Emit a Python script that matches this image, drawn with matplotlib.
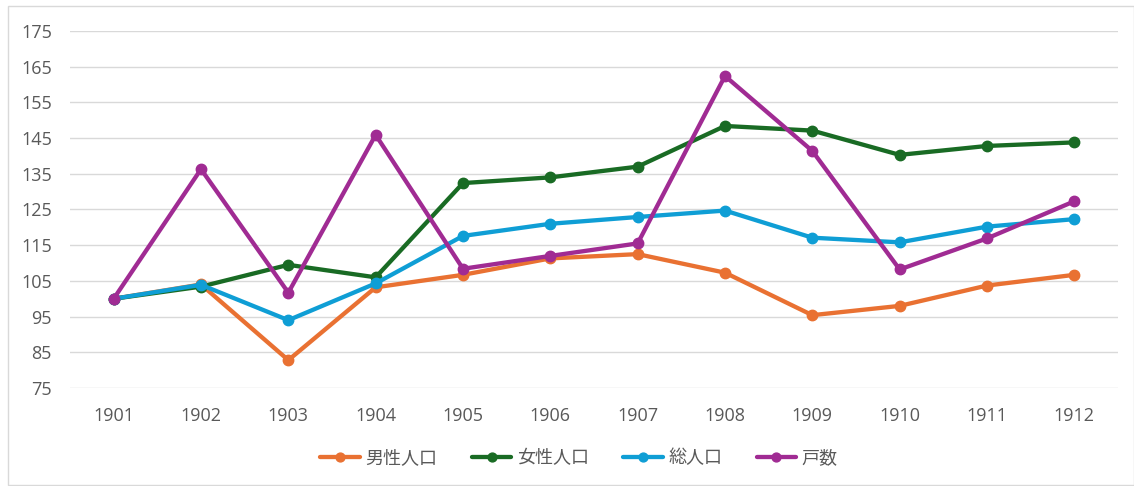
import matplotlib
matplotlib.use("Agg")
import matplotlib.pyplot as plt
from matplotlib.patches import Rectangle

# ── Data ──────────────────────────────────────────────────────────────────────
YEARS = ["1901", "1902", "1903", "1904", "1905", "1906",
         "1907", "1908", "1909", "1910", "1911", "1912"]
MALE = [100, 104.0, 82.8, 103.2, 106.7, 111.3, 112.5, 107.3, 95.4, 98.0, 103.7, 106.7]
FEMALE = [100, 103.4, 109.5, 106.0, 132.4, 134.0, 137.0, 148.4, 147.1, 140.3, 142.8, 143.8]
TOTAL = [100, 103.9, 94.0, 104.3, 117.6, 121.0, 122.9, 124.7, 117.1, 115.8, 120.2, 122.3]
HOUSEHOLDS = [100, 136.3, 101.7, 145.9, 108.4, 112.0, 115.5, 162.4, 141.4, 108.2, 116.9, 127.3]

SERIES = [
    ("男性人口", MALE, "#E97132"),
    ("女性人口", FEMALE, "#196B24"),
    ("総人口", TOTAL, "#0F9ED5"),
    ("戸数", HOUSEHOLDS, "#A02B93"),
]
Y_TICKS = list(range(75, 176, 10))

plt.rcParams["font.family"] = ["Open Sans", "Noto Sans CJK JP", "DejaVu Sans"]

W, H = 1134, 486
fig = plt.figure(figsize=(W / 100, H / 100), dpi=100, facecolor="white")
ax = fig.add_axes([70 / W, 1 - 388 / H, (1118 - 70) / W, (388 - 31) / H])

xs = range(len(YEARS))
for label, vals, color in SERIES:
    ax.plot(xs, vals, color=color, lw=3.1, marker="o", ms=7.5,
            label=label, solid_capstyle="round", zorder=3)

ax.set_xlim(-0.5, len(YEARS) - 0.5)
ax.set_ylim(75, 175)
ax.set_yticks(Y_TICKS)
ax.set_xticks(list(xs))
ax.set_xticklabels(YEARS)
ax.grid(True, axis="y", color="#d9d9d9", lw=1.0, zorder=0)
ax.set_axisbelow(True)
for s in ax.spines.values():
    s.set_visible(False)
ax.tick_params(length=0, labelsize=13, labelcolor="#595959")
ax.tick_params(axis="y", pad=13)
ax.tick_params(axis="x", pad=14)

fig.legend(loc="center", bbox_to_anchor=(579 / W, 1 - 458 / H), ncol=4,
           frameon=False, fontsize=13, labelcolor="#595959",
           handlelength=2.2, columnspacing=1.9, handletextpad=0.3,
           markerscale=0.85)

fig.patches.append(Rectangle((7.5 / W, 1.5 / H), (W - 8) / W, (H - 8) / H,
                             transform=fig.transFigure, fill=False,
                             edgecolor="#d9d9d9", lw=1.0))

fig.savefig("out.png", dpi=100, facecolor="white")
